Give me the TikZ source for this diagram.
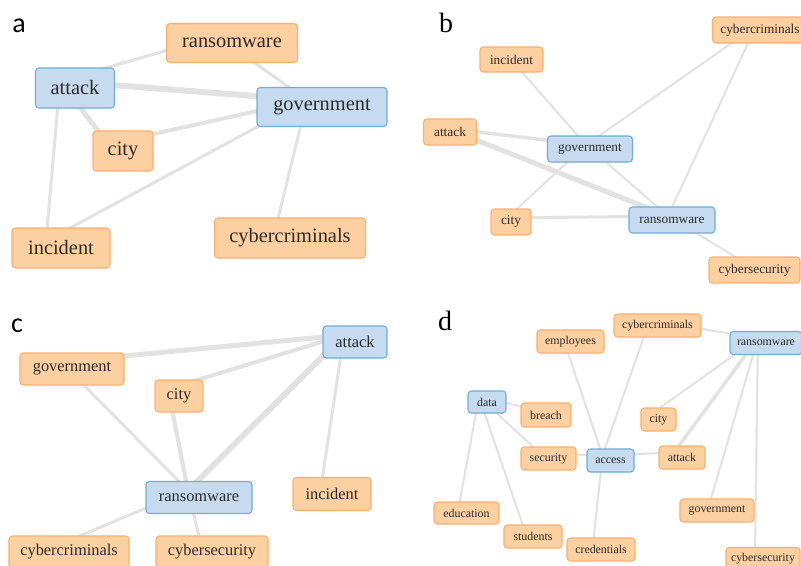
\documentclass[tikz,border=0pt]{standalone}
\usepackage{fontspec}
\setmainfont{Liberation Serif}
\newfontfamily\lblsans{Carlito}
\usepackage{tikz}
\usetikzlibrary{backgrounds}
\definecolor{kwfill}{HTML}{FDD0A2}
\definecolor{kwline}{HTML}{FDAE6B}
\definecolor{hubfill}{HTML}{C6DBEF}
\definecolor{hubline}{HTML}{6BAED6}
\definecolor{edgegray}{HTML}{E2E2E2}
\definecolor{txt}{HTML}{2B2B2B}

\begin{document}
\begin{tikzpicture}[
      x=0.75pt, y=-0.75pt,
      kw/.style={
        draw=kwline,
        fill=kwfill,
        line width=0.8pt,
        rounded corners=2.5pt,
        inner sep=0pt,
        text=txt
      },
      hub/.style={kw, draw=hubline, fill=hubfill},
      sz/.style 2 args={minimum width=#1*0.75pt, minimum height=#2*0.75pt},
      fa/.style={font=\fontsize{15.3}{18}\selectfont},
      fb/.style={font=\fontsize{10}{12}\selectfont},
      fc/.style={font=\fontsize{12.3}{15}\selectfont},
      fd/.style={font=\fontsize{8.9}{11}\selectfont},
      panel/.style={anchor=base, text=black, font=\fontsize{21}{24}\selectfont},
      lnk/.style={draw=edgegray, line width=#1*0.75pt},
      lnk/.default=2,
      via/.style 2 args={to path={([shift={(#1,#2)}]\tikztostart.center)
        -- ([shift={(#1,#2)}]\tikztotarget.center)}},
      offa/.style={via={-15}{-7}},
      offb/.style={via={-4}{-4}},
      offc/.style={via={-11}{-7}},
      offd/.style={via={-8}{-5}}
    ]

    \useasboundingbox (0,0) rectangle (801,565);
    \clip (0,0) rectangle (801,565);

    % panel a
    \node[panel, font=\lblsans\fontsize{21}{24}\selectfont] (lbl-a) at (19,32) {a};
    \node[kw, fa, sz={131}{39}] (a-ran) at (232,43) {ransomware};
    \node[hub, fa, sz={79}{40}] (a-att) at (75,88) {attack};
    \node[hub, fa, sz={130}{39}] (a-gov) at (322,107) {government};
    \node[kw, fa, sz={60}{40}] (a-city) at (123,151) {city};
    \node[kw, fa, sz={98}{40}] (a-inc) at (61,248) {incident};
    \node[kw, fa, sz={151}{40}] (a-cyb) at (290,238) {cybercriminals};

    % panel b
    \node[panel] (lbl-b) at (446,32) {b};
    \node[kw, fb, sz={95}{26}] (b-cyb) at (760,30) {cybercriminals};
    \node[kw, fb, sz={63}{25}] (b-inc) at (511.5,59.5) {incident};
    \node[kw, fb, sz={53}{26}] (b-att) at (450,132) {attack};
    \node[hub, fb, sz={85}{26}] (b-gov) at (590,149) {government};
    \node[kw, fb, sz={40}{26}] (b-city) at (511,222) {city};
    \node[hub, fb, sz={86}{26}] (b-ran) at (672,220) {ransomware};
    \node[kw, fb, sz={91}{26}] (b-sec) at (754.5,270) {cybersecurity};

    % panel c
    \node[panel, font=\lblsans\fontsize{21}{24}\selectfont] (lbl-c) at (17,332) {c};
    \node[hub, fc, sz={64}{32}] (c-att) at (355,342) {attack};
    \node[kw, fc, sz={104}{32}] (c-gov) at (72,369) {government};
    \node[kw, fc, sz={48}{32}] (c-city) at (179,396) {city};
    \node[hub, fc, sz={106}{32}] (c-ran) at (199,497.5) {ransomware};
    \node[kw, fc, sz={78}{33}] (c-inc) at (332,494) {incident};
    \node[kw, fc, sz={120}{32}] (c-cyb) at (69,552) {cybercriminals};
    \node[kw, fc, sz={112}{32}] (c-sec) at (212,552) {cybersecurity};

    % panel d
    \node[panel] (lbl-d) at (445,330) {d};
    \node[kw, fd, sz={87}{23}] (d-cyb) at (657.5,325.5) {cybercriminals};
    \node[kw, fd, sz={67}{23}] (d-emp) at (570.5,341.5) {employees};
    \node[hub, fd, sz={72}{23}] (d-ran) at (766,343) {ransomware};
    \node[hub, fd, sz={38}{22}] (d-data) at (487,402) {data};
    \node[kw, fd, sz={50}{24}] (d-bre) at (546,415) {breach};
    \node[kw, fd, sz={35}{23}] (d-city) at (658.5,419.5) {city};
    \node[kw, fd, sz={55}{23}] (d-sec) at (548.5,458.5) {security};
    \node[hub, fd, sz={47}{23}] (d-acc) at (610.5,460.5) {access};
    \node[kw, fd, sz={46}{23}] (d-att) at (682,457.5) {attack};
    \node[kw, fd, sz={65}{22}] (d-edu) at (466.5,513) {education};
    \node[kw, fd, sz={74}{23}] (d-gov) at (717,510.5) {government};
    \node[kw, fd, sz={58}{23}] (d-stu) at (533,536.5) {students};
    \node[kw, fd, sz={68}{23}] (d-cred) at (601,549.5) {credentials};
    \node[kw, fd, sz={74}{23}] (d-csec) at (763,559) {cybersecurity};

    \begin{pgfonlayer}{background}
      \fill[white] (0,0) rectangle (801,565);

      % links a
      \draw[lnk=3, offa] (a-att) to (a-ran);
      \draw[lnk=6, offa] (a-att) to (a-gov);
      \draw[lnk=5, offa] (a-att) to (a-city);
      \draw[lnk=3, offa] (a-att) to (a-inc);
      \draw[lnk=3, offa] (a-ran) to (a-gov);
      \draw[lnk=4, offa] (a-city) to (a-gov);
      \draw[lnk=3, offa] (a-inc) to (a-gov);
      \draw[lnk=3, offa] (a-gov) to (a-cyb);

      % links b
      \draw[lnk=2, offb] (b-inc) to (b-gov);
      \draw[lnk=3.5, offb] (b-att) to (b-gov);
      \draw[lnk=5, offb] (b-att) to (b-ran);
      \draw[lnk=2, offb] (b-gov) to (b-cyb);
      \draw[lnk=2, offb] (b-gov) to (b-ran);
      \draw[lnk=2, offb] (b-gov) to (b-city);
      \draw[lnk=3, offb] (b-city) to (b-ran);
      \draw[lnk=2, offb] (b-ran) to (b-cyb);
      \draw[lnk=2, offb] (b-ran) to (b-sec);

      % links c
      \draw[lnk=5, offc] (c-gov) to (c-att);
      \draw[lnk=4, offc] (c-city) to (c-att);
      \draw[lnk=6, offc] (c-ran) to (c-att);
      \draw[lnk=3, offc] (c-inc) to (c-att);
      \draw[lnk=3, offc] (c-gov) to (c-ran);
      \draw[lnk=4, offc] (c-city) to (c-ran);
      \draw[lnk=3, offc] (c-ran) to (c-cyb);
      \draw[lnk=3, offc] (c-ran) to (c-sec);

      % links d
      \draw[lnk, offd] (d-cyb) to (d-ran);
      \draw[lnk, offd] (d-cyb) to (d-acc);
      \draw[lnk, offd] (d-emp) to (d-acc);
      \draw[lnk, offd] (d-ran) to (d-city);
      \draw[lnk=3.5, offd] (d-ran) to (d-att);
      \draw[lnk, offd] (d-ran) to (d-gov);
      \draw[lnk, offd] (d-ran) to (d-csec);
      \draw[lnk, offd] (d-data) to (d-bre);
      \draw[lnk, offd] (d-data) to (d-sec);
      \draw[lnk, offd] (d-data) to (d-edu);
      \draw[lnk, offd] (d-data) to (d-stu);
      \draw[lnk, offd] (d-sec) to (d-acc);
      \draw[lnk, offd] (d-acc) to (d-att);
      \draw[lnk, offd] (d-acc) to (d-cred);
    \end{pgfonlayer}

  \end{tikzpicture}
\end{document}
